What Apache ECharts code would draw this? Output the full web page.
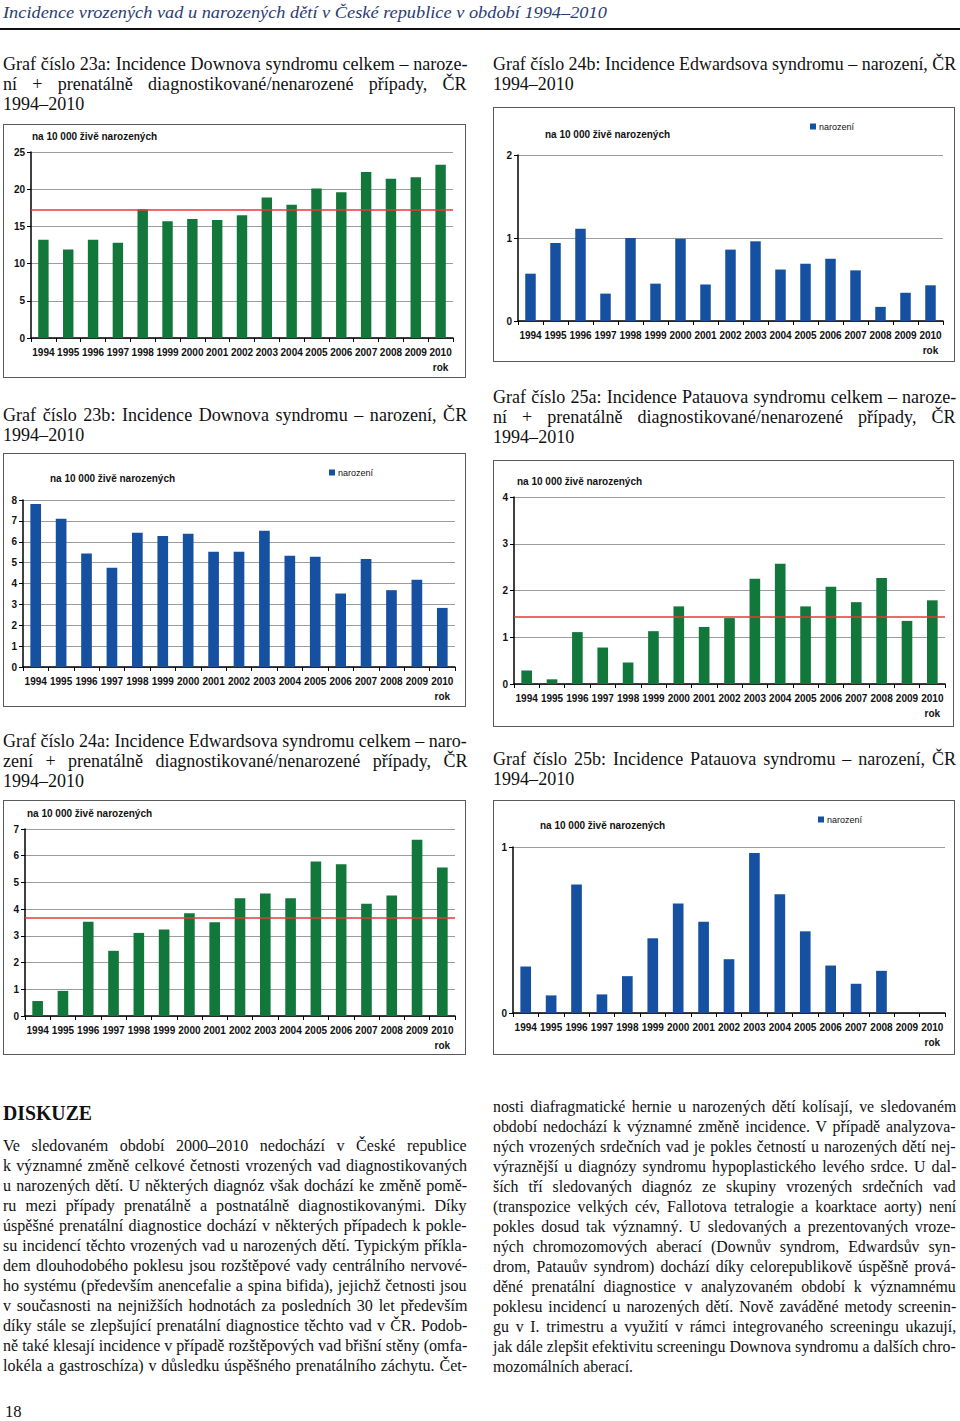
<!DOCTYPE html>
<html><head><meta charset="utf-8">
<script src="https://cdn.jsdelivr.net/npm/echarts@6/dist/echarts.min.js"></script>
<style>
html,body{margin:0;padding:0;background:#fff;}
#page{position:relative;width:960px;height:1421px;overflow:hidden;background:#fff;}
.box{position:absolute;border:1px solid #5a5a5a;box-sizing:border-box;}
.box > div{position:absolute;left:0;top:0;width:100%;height:100%;}
.ln{position:absolute;white-space:nowrap;transform-origin:0 50%;color:#111;}
</style></head>
<body><div id="page"></div>
<script>
// ---------- data ----------
const years = ['1994','1995','1996','1997','1998','1999','2000','2001','2002','2003','2004','2005','2006','2007','2008','2009','2010'];
const downTotal = [13.2, 11.9, 13.2, 12.8, 17.3, 15.7, 16.0, 15.85, 16.5, 18.9, 17.9, 20.1, 19.6, 22.3, 21.4, 21.6, 23.3];
const downTotalMean = 17.3;
const edwBorn = [0.57, 0.94, 1.11, 0.33, 1.0, 0.45, 0.99, 0.44, 0.86, 0.96, 0.62, 0.69, 0.75, 0.61, 0.17, 0.34, 0.43];
const downBorn = [7.81, 7.1, 5.44, 4.75, 6.43, 6.27, 6.38, 5.52, 5.52, 6.53, 5.33, 5.28, 3.52, 5.17, 3.68, 4.18, 2.83];
const patauTotal = [0.29, 0.1, 1.11, 0.78, 0.46, 1.13, 1.66, 1.22, 1.41, 2.25, 2.57, 1.66, 2.08, 1.75, 2.27, 1.35, 1.79];
const patauTotalMean = 1.43;
const edwTotal = [0.56, 0.94, 3.53, 2.44, 3.11, 3.24, 3.85, 3.51, 4.41, 4.59, 4.41, 5.78, 5.68, 4.2, 4.51, 6.6, 5.56];
const edwTotalMean = 3.66;
const patauBorn = [0.28, 0.106, 0.774, 0.112, 0.222, 0.45, 0.66, 0.55, 0.324, 0.964, 0.716, 0.492, 0.286, 0.176, 0.254, 0, 0];
const unitLabel = 'na 10 000 živě narozených';
const seriesName = 'narození';
const axisName = 'rok';

const GREEN = '#12773a', BLUE = '#1550a1', RED = '#e4383c';
const page = document.getElementById('page');

// ---------- text helpers ----------
function makeLine(text, x, yc, o) {
  const d = document.createElement('div');
  d.className = 'ln';
  d.textContent = text;
  const lh = o.lh || 20;
  d.style.left = x + 'px';
  d.style.top = (yc - lh / 2) + 'px';
  d.style.height = lh + 'px';
  d.style.lineHeight = lh + 'px';
  d.style.fontSize = o.fs + 'px';
  d.style.fontFamily = "'Liberation Serif','Times New Roman',serif";
  if (o.italic) d.style.fontStyle = 'italic';
  if (o.bold) d.style.fontWeight = 'bold';
  if (o.color) d.style.color = o.color;
  page.appendChild(d);
  return d;
}
function addLine(text, x, yc, W, o) {
  const d = makeLine(text, x, yc, o);
  const w = d.offsetWidth;
  let s = o.exact ? W / w : Math.min(o.base || 0.9, W / w);
  d.style.transform = 'scaleX(' + s + ')';
}
function addBlock(lines, x, y0, W, o) {
  const lh = o.lh || 20;
  const els = lines.map((t, i) => makeLine(t, x, y0 + i * lh, o));
  const just = lines.map((t, i) => o.justifyLast || i < lines.length - 1);
  let s = o.maxScale || 1;
  els.forEach((d, i) => { if (just[i]) s = Math.min(s, W / d.offsetWidth); });
  els.forEach((d, i) => {
    const w = d.offsetWidth;
    const n = (lines[i].match(/ /g) || []).length;
    if (just[i] && n > 0 && w * s < W) d.style.wordSpacing = ((W / s - w) / n) + 'px';
    d.style.transform = 'scaleX(' + s + ')';
  });
}

// header
addLine('Incidence vrozených vad u narozených dětí v České republice v období 1994–2010', 3, 12, 604, { fs: 17.5, italic: true, exact: true, color: '#2a3c72', lh: 20 });
const rule = document.createElement('div');
rule.style.cssText = 'position:absolute;left:0;top:28px;width:960px;height:2px;background:#111;';
page.appendChild(rule);

// graph titles
const T = { fs: 19, lh: 20, maxScale: 0.95 };
addBlock(['Graf číslo 23a: Incidence Downova syndromu celkem – naroze-', 'ní + prenatálně diagnostikované/nenarozené případy, ČR', '1994–2010'], 3, 64, 464, T);
addBlock(['Graf číslo 24b: Incidence Edwardsova syndromu – narození, ČR', '1994–2010'], 493, 64, 463, T);
addBlock(['Graf číslo 23b: Incidence Downova syndromu – narození, ČR', '1994–2010'], 3, 415, 464, T);
addBlock(['Graf číslo 25a: Incidence Patauova syndromu celkem – naroze-', 'ní + prenatálně diagnostikované/nenarozené případy, ČR', '1994–2010'], 493, 397, 463, T);
addBlock(['Graf číslo 24a: Incidence Edwardsova syndromu celkem – naro-', 'zení + prenatálně diagnostikované/nenarozené případy, ČR', '1994–2010'], 3, 741, 464, T);
addBlock(['Graf číslo 25b: Incidence Patauova syndromu – narození, ČR', '1994–2010'], 493, 759, 463, T);

// discussion
addLine('DISKUZE', 3, 1113, 89, { fs: 22, bold: true, exact: true, lh: 24 });
const B = { fs: 17.5, lh: 20, maxScale: 0.95 };
addBlock([
  'Ve sledovaném období 2000–2010 nedochází v České republice',
  'k významné změně celkové četnosti vrozených vad diagnostikovaných',
  'u narozených dětí. U některých diagnóz však dochází ke změně pomě-',
  'ru mezi případy prenatálně a postnatálně diagnostikovanými. Díky',
  'úspěšné prenatální diagnostice dochází v některých případech k pokle-',
  'su incidencí těchto vrozených vad u narozených dětí. Typickým příkla-',
  'dem dlouhodobého poklesu jsou rozštěpové vady centrálního nervové-',
  'ho systému (především anencefalie a spina bifida), jejichž četnosti jsou',
  'v současnosti na nejnižších hodnotách za posledních 30 let především',
  'díky stále se zlepšující prenatální diagnostice těchto vad v ČR. Podob-',
  'ně také klesají incidence v případě rozštěpových vad břišní stěny (omfa-',
  'lokéla a gastroschíza) v důsledku úspěšného prenatálního záchytu. Čet-'
], 3, 1145, 464, Object.assign({ justifyLast: true }, B));
addBlock([
  'nosti diafragmatické hernie u narozených dětí kolísají, ve sledovaném',
  'období nedochází k významné změně incidence. V případě analyzova-',
  'ných vrozených srdečních vad je pokles četností u narozených dětí nej-',
  'výraznější u diagnózy syndromu hypoplastického levého srdce. U dal-',
  'ších tří sledovaných diagnóz ze skupiny vrozených srdečních vad',
  '(transpozice velkých cév, Fallotova tetralogie a koarktace aorty) není',
  'pokles dosud tak významný. U sledovaných a prezentovaných vroze-',
  'ných chromozomových aberací (Downův syndrom, Edwardsův syn-',
  'drom, Patauův syndrom) dochází díky celorepublikově úspěšně prová-',
  'děné prenatální diagnostice v analyzovaném období k významnému',
  'poklesu incidencí u narozených dětí. Nově zaváděné metody screenin-',
  'gu v I. trimestru a využití v rámci integrovaného screeningu ukazují,',
  'jak dále zlepšit efektivitu screeningu Downova syndromu a dalších chro-',
  'mozomálních aberací.'
], 493, 1106, 463, B);
addLine('18', 5, 1411, 30, { fs: 17.5, base: 0.95, lh: 16 });

// ---------- charts ----------
const charts = [
  { box: [3, 124, 463, 254], grid: [28, 13, 28, 40], data: downTotal, color: GREEN, max: 25, interval: 5, mean: downTotalMean, title: [29, 13] },
  { box: [493, 107, 462, 255], grid: [25, 12, 48, 41], data: edwBorn, color: BLUE, max: 2, interval: 1, legend: [317, 21], title: [52, 28] },
  { box: [3, 453, 463, 254], grid: [20, 11, 47, 40], data: downBorn, color: BLUE, max: 8, interval: 1, legend: [326, 21], title: [47, 26] },
  { box: [493, 460, 461, 267], grid: [21, 9, 37, 43], data: patauTotal, color: GREEN, max: 4, interval: 1, mean: patauTotalMean, title: [24, 22] },
  { box: [3, 800, 463, 255], grid: [22, 11, 29, 39], data: edwTotal, color: GREEN, max: 7, interval: 1, mean: edwTotalMean, title: [24, 14] },
  { box: [493, 800, 462, 255], grid: [20, 10, 47, 42], data: patauBorn, color: BLUE, max: 1, interval: 1, legend: [325, 21], title: [47, 26] }
];
const SANS = "'Liberation Sans', Arial, sans-serif";

charts.forEach(c => {
  const wrap = document.createElement('div');
  wrap.className = 'box';
  wrap.style.left = c.box[0] + 'px';
  wrap.style.top = c.box[1] + 'px';
  wrap.style.width = c.box[2] + 'px';
  wrap.style.height = c.box[3] + 'px';
  const inner = document.createElement('div');
  wrap.appendChild(inner);
  page.appendChild(wrap);
  const chart = echarts.init(inner, null, { renderer: 'svg' });
  const series = {
    name: seriesName,
    type: 'bar',
    data: c.data,
    barWidth: '42%',
    itemStyle: { color: c.color },
    silent: true
  };
  if (c.mean !== undefined) {
    series.markLine = {
      symbol: 'none', silent: true, animation: false,
      label: { show: false },
      lineStyle: { color: RED, type: 'solid', width: 1.6 },
      data: [{ yAxis: c.mean }]
    };
  }
  const opt = {
    animation: false,
    textStyle: { fontFamily: SANS },
    title: {
      text: unitLabel, left: c.title[0] - 1, top: c.title[1] - 7, padding: 0,
      textStyle: { fontSize: 10, fontWeight: 'bold', color: '#111', fontFamily: SANS }
    },
    grid: { left: c.grid[0] - 1, right: c.grid[1] - 1, top: c.grid[2] - 1, bottom: c.grid[3] - 1, containLabel: false },
    xAxis: {
      type: 'category', data: years, boundaryGap: true,
      axisLine: { show: true, lineStyle: { color: '#000', width: 1.5 } },
      axisTick: { show: true, alignWithLabel: false, length: 4, lineStyle: { color: '#000', width: 1 } },
      axisLabel: {
        interval: 0, margin: 7, fontSize: 10, fontWeight: 'bold', color: '#111', fontFamily: SANS, lineHeight: 14,
        formatter: (v, i) => i === years.length - 1 ? v + '\n{r|' + axisName + '}' : v,
        rich: { r: { fontSize: 10, fontWeight: 'bold', color: '#111', fontFamily: SANS, lineHeight: 16 } }
      },
      splitLine: { show: false }
    },
    yAxis: {
      type: 'value', min: 0, max: c.max, interval: c.interval,
      axisLine: { show: true, lineStyle: { color: '#000', width: 1.5 } },
      axisTick: { show: true, length: 4, lineStyle: { color: '#000', width: 1 } },
      axisLabel: { margin: 6, fontSize: 10, fontWeight: 'bold', color: '#111', fontFamily: SANS },
      splitLine: { show: true, lineStyle: { color: '#9c9c9c', width: 1 } }
    },
    series: [series]
  };
  if (c.legend) {
    opt.legend = {
      data: [seriesName], left: c.legend[0] - 1, top: c.legend[1] - 7, padding: 0,
      icon: 'rect', itemWidth: 6, itemHeight: 6, itemGap: 4,
      selectedMode: false,
      textStyle: { fontSize: 9, color: '#111', fontFamily: SANS, padding: [0, 0, 0, -2] }
    };
  }
  chart.setOption(opt);
});
</script></body></html>
